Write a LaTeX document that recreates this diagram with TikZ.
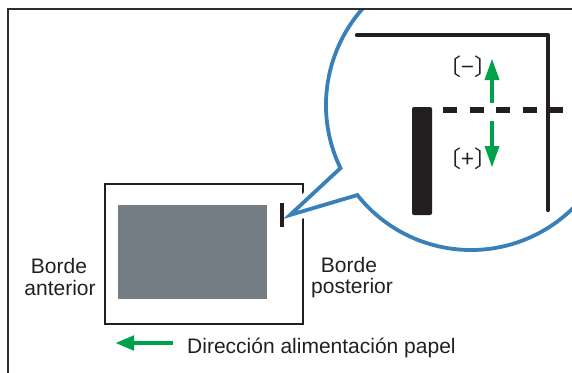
\documentclass[tikz,border=0pt]{standalone}
\usepackage{fontspec}
\setmainfont{Liberation Sans}
\newfontfamily\cjkfont{Noto Sans CJK JP}
\usetikzlibrary{arrows.meta,calc}
\definecolor{ink}{HTML}{231F20}
\definecolor{frameclr}{HTML}{2E2E2E}
\definecolor{bubbleblue}{HTML}{3A80B8}
\definecolor{arrowgreen}{HTML}{00A14B}
\definecolor{papergray}{HTML}{757D84}
\begin{document}
\begin{tikzpicture}[x=1pt,y=-1pt,
  outerframe/.style={draw=frameclr,line width=2.4pt},
  paperframe/.style={draw=ink,line width=2.2pt},
  bubble/.style={draw=bubbleblue,line width=3.8pt,fill=white,line join=miter},
  halo/.style={draw=white,line width=14pt,line join=round},
  guide/.style={draw=ink,line width=4.3pt,line cap=round,line join=round},
  dashline/.style={draw=ink,line width=6.5pt,dash pattern=on 14pt off 12.5pt},
  garrow/.style={draw=arrowgreen,line width=4.8pt,-{Triangle[length=22pt,width=13.5pt]}},
  feedarrow/.style={draw=arrowgreen,line width=4.6pt,-{Triangle[length=19pt,width=14pt]}},
  lbl/.style={text=ink,inner sep=0pt,font=\fontsize{21}{24}\selectfont},
  sign/.style={text=ink,inner sep=0pt,font=\cjkfont\fontsize{23}{26}\selectfont}
]
\useasboundingbox (0,0) rectangle (572,372);
% paper sheet
\draw[paperframe] (105,184) rectangle (303,324);
\fill[papergray] (118,205) rectangle (267,299);
% speech bubble
\coordinate (c) at (471,105);
\coordinate (tip) at (290,215);
\begin{scope}
  \clip (8,9) rectangle (600,400);
  \path[halo] (tip) -- ($(c)+(154.2:145)$) arc[start angle=154.2,end angle=501.6,radius=145] -- cycle;
  \path[bubble] (tip) -- ($(c)+(154.2:145)$) arc[start angle=154.2,end angle=501.6,radius=145] -- cycle;
\end{scope}
\fill[ink] (280,203) rectangle (284,227);
% outer frame (open to the right and bottom)
\draw[outerframe] (8,400) -- (8,9) -- (600,9);
% magnified detail
\coordinate (g1) at (357,35);
\coordinate (g2) at (548,35);
\coordinate (g3) at (548,210);
\draw[guide] (g1) -- (g2) -- (g3);
\fill[ink,rounded corners=2pt] (412,107) rectangle (432,215);
\coordinate (d1) at (443,110);
\coordinate (d2) at (563,110);
\draw[dashline] (d1) -- (d2);
\coordinate (u1) at (492,103);
\coordinate (u2) at (492,58);
\coordinate (w1) at (492,121);
\coordinate (w2) at (492,168);
\draw[garrow] (u1) -- (u2);
\draw[garrow] (w1) -- (w2);
\node[sign] (minus) at (468,66.5) {〔−〕};
\node[sign] (plus) at (468,158.5) {〔+〕};
% labels
\node[lbl,anchor=base] (bordeA) at (59,273) {Borde};
\node[lbl,anchor=base] (anterior) at (60,295) {anterior};
\node[lbl,anchor=base] (bordeP) at (349,272) {Borde};
\node[lbl,anchor=base] (posterior) at (352,293) {posterior};
% feed direction
\coordinate (f1) at (173,343);
\coordinate (f2) at (115,343);
\draw[feedarrow] (f1) -- (f2);
\node[lbl,anchor=base west] (feed) at (187,353) {Dirección alimentación papel};
\end{tikzpicture}
\end{document}
